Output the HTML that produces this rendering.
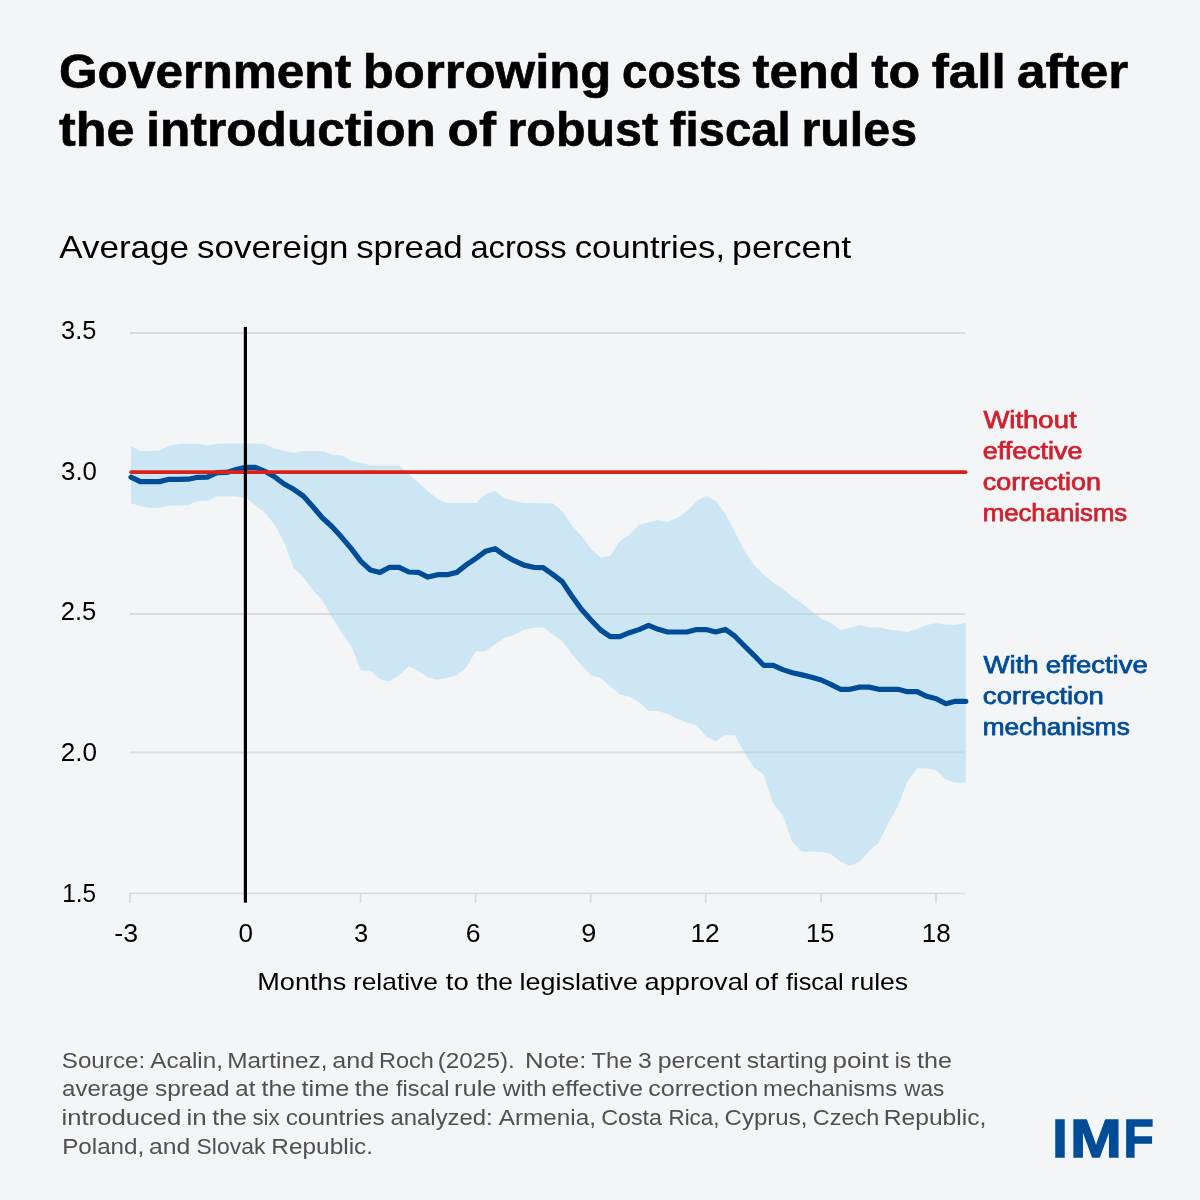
<!DOCTYPE html>
<html lang="en"><head><meta charset="utf-8"><title>Government borrowing costs tend to fall after the introduction of robust fiscal rules</title>
<style>
html,body{margin:0;padding:0;background:#f4f5f7}
body{width:1200px;height:1200px;background:#f4f5f7;position:relative;overflow:hidden}
.chart{position:absolute;left:0;top:0;display:block}
text{font-family:"Liberation Sans",sans-serif;fill:#000;white-space:pre}
.grid rect{fill:#dbdbdb}
.band{fill:#9cd7ee;fill-opacity:0.45}
.zero{fill:#000}
.without{stroke:#da2318;stroke-width:3.7;stroke-linecap:round;fill:none}
.with{stroke:#004c97;stroke-width:5.2;stroke-linecap:round;stroke-linejoin:round;fill:none}
.title{font-weight:700;font-size:47.5px;stroke:#000;stroke-width:0.6px}
.sub{font-size:32px}
.ax{font-size:24px}
.tick{font-size:25.5px}
.lab{font-weight:400;font-size:24.2px;stroke-width:0.75px;paint-order:stroke}
.red{fill:#d0202e;stroke:#d0202e}
.blu{fill:#004c97;stroke:#004c97}
.foot{font-size:21.8px;fill:#505050}
.imf{font-weight:700;font-size:54.3px;fill:#004c97;stroke:#004c97;stroke-width:1.4px}
</style></head>
<body>
<svg class="chart" width="1200" height="1200" viewBox="0 0 1200 1200" role="img" aria-label="Average sovereign spread across countries, percent">
<g class="grid">
<rect x="130" y="332" width="835" height="2"/>
<rect x="130" y="472" width="835" height="2"/>
<rect x="130" y="613" width="835" height="2"/>
<rect x="130" y="751.4" width="835" height="2"/>
<rect x="129.1" y="892.6" width="835.9" height="1.6"/>
<rect x="129.1" y="893.4" width="1.8" height="9.6"/>
<rect x="244.5" y="893.4" width="1.8" height="9.6"/>
<rect x="359.7" y="893.4" width="1.8" height="9.6"/>
<rect x="474.7" y="893.4" width="1.8" height="9.6"/>
<rect x="589.8" y="893.4" width="1.8" height="9.6"/>
<rect x="704.8" y="893.4" width="1.8" height="9.6"/>
<rect x="820.3" y="893.4" width="1.8" height="9.6"/>
<rect x="935.1" y="893.4" width="1.8" height="9.6"/>
</g>
<polygon class="band" points="131.0,446.0 140.3,450.9 149.9,450.9 159.5,450.4 169.1,446.0 178.6,444.0 188.2,443.7 197.8,443.7 207.4,445.6 217.0,443.7 226.6,443.6 236.2,443.6 245.8,443.6 255.4,443.6 265.0,444.0 274.5,448.5 284.1,450.7 293.7,452.9 303.3,451.1 312.9,450.9 322.5,450.9 332.1,455.1 341.7,455.6 351.3,460.4 360.9,463.1 370.4,465.3 380.0,465.3 389.6,465.3 399.2,465.3 408.8,474.0 418.4,482.7 428.0,491.3 437.6,499.1 447.2,503.1 456.8,503.1 466.3,503.1 475.9,503.1 485.5,494.0 495.1,491.3 504.7,498.0 514.3,501.1 523.9,503.1 533.5,503.1 543.1,503.2 552.7,503.2 562.2,511.0 571.8,525.3 581.4,536.0 591.0,548.7 600.6,557.7 610.2,556.0 619.8,541.3 629.4,534.7 639.0,524.7 648.6,522.4 658.2,520.0 667.7,522.0 677.3,517.7 686.9,511.3 696.5,500.9 706.1,496.0 715.7,500.7 725.3,514.0 734.9,532.0 744.5,550.7 754.0,564.7 763.6,574.7 773.2,582.7 782.8,588.7 792.4,596.7 802.0,603.3 811.6,611.3 821.2,618.7 830.8,622.7 840.4,630.2 850.0,627.7 859.5,625.3 869.1,627.3 878.7,627.3 888.3,629.6 897.9,630.4 907.5,632.0 917.1,629.1 926.7,625.1 936.3,622.9 945.8,624.7 955.4,624.7 965.8,622.7 965.8,782.7 955.4,782.4 945.8,779.7 936.3,770.4 926.7,768.3 917.1,768.3 907.5,781.3 897.9,806.0 888.3,823.3 878.7,842.7 869.1,851.3 859.5,861.5 850.0,866.0 840.4,861.5 830.8,854.0 821.2,851.8 811.6,851.7 802.0,851.7 792.4,842.0 782.8,815.3 773.2,803.3 763.6,774.7 754.0,767.3 744.5,753.0 734.9,735.0 725.3,735.0 715.7,741.5 706.1,736.5 696.5,725.3 686.9,722.4 677.3,718.7 667.7,714.0 658.2,711.0 648.6,710.9 639.0,702.0 629.4,696.7 619.8,694.3 610.2,686.3 600.6,677.7 591.0,675.3 581.4,665.3 571.8,654.0 562.2,641.0 552.7,634.2 543.1,627.5 533.5,627.7 523.9,630.0 514.3,634.7 504.7,637.7 495.1,644.3 485.5,651.3 475.9,651.3 466.3,667.3 456.8,675.3 447.2,677.7 437.6,679.7 428.0,677.3 418.4,671.0 408.8,666.0 399.2,675.3 389.6,681.6 380.0,679.3 370.4,670.7 360.9,670.4 351.3,646.0 341.7,632.7 332.1,617.3 322.5,600.7 312.9,590.0 303.3,577.3 293.7,568.0 284.1,542.0 274.5,524.6 265.0,513.0 255.4,505.3 245.8,498.0 236.2,496.4 226.6,496.3 217.0,496.3 207.4,500.7 197.8,501.0 188.2,505.3 178.6,505.5 169.1,505.7 159.5,507.7 149.9,508.0 140.3,506.0 131.0,503.3"/>
<polyline class="with" points="131.0,477.1 140.3,481.7 149.9,481.7 159.5,481.6 169.1,479.3 178.6,479.3 188.2,479.2 197.8,477.3 207.4,477.1 217.0,472.7 226.6,472.4 236.2,469.6 245.8,467.3 255.4,467.3 265.0,471.3 274.5,476.7 284.1,484.0 293.7,489.3 303.3,496.0 312.9,506.7 322.5,518.0 332.1,526.7 341.7,537.3 351.3,548.7 360.9,561.3 370.4,570.0 380.0,572.4 389.6,567.3 399.2,567.3 408.8,572.0 418.4,572.3 428.0,577.1 437.6,574.7 447.2,574.7 456.8,572.4 466.3,564.9 475.9,558.3 485.5,551.3 495.1,548.7 504.7,555.3 514.3,560.7 523.9,565.1 533.5,567.3 543.1,567.6 552.7,574.4 562.2,581.6 571.8,596.0 581.4,609.3 591.0,620.0 600.6,630.0 610.2,636.7 619.8,636.7 629.4,632.7 639.0,629.6 648.6,625.3 658.2,629.3 667.7,632.0 677.3,632.0 686.9,632.0 696.5,629.6 706.1,629.6 715.7,632.0 725.3,629.4 734.9,636.2 744.5,646.0 754.0,655.3 763.6,665.3 773.2,665.3 782.8,669.6 792.4,672.7 802.0,674.9 811.6,677.3 821.2,680.0 830.8,684.4 840.4,689.3 850.0,689.3 859.5,687.1 869.1,687.1 878.7,689.3 888.3,689.3 897.9,689.3 907.5,691.7 917.1,691.7 926.7,696.3 936.3,698.7 945.8,703.7 955.4,701.3 965.8,701.3"/>
<line class="without" x1="131.2" y1="472.2" x2="965.6" y2="472.2"/>
<rect class="zero" x="243.8" y="327" width="3.2" height="575.6"/>
<g class="titles">
<text class="title" y="88.4"><tspan x="59.05" textLength="292.14" lengthAdjust="spacingAndGlyphs">Government</tspan> <tspan x="362.8" textLength="248.61" lengthAdjust="spacingAndGlyphs">borrowing</tspan> <tspan x="622.1" textLength="119.18" lengthAdjust="spacingAndGlyphs">costs</tspan> <tspan x="752.53" textLength="107.53" lengthAdjust="spacingAndGlyphs">tend</tspan> <tspan x="871.25" textLength="49.02" lengthAdjust="spacingAndGlyphs">to</tspan> <tspan x="931.7" textLength="74.19" lengthAdjust="spacingAndGlyphs">fall</tspan> <tspan x="1017" textLength="111.14" lengthAdjust="spacingAndGlyphs">after</tspan></text>
<text class="title" y="145.9"><tspan x="59.07" textLength="75.44" lengthAdjust="spacingAndGlyphs">the</tspan> <tspan x="146.3" textLength="289.48" lengthAdjust="spacingAndGlyphs">introduction</tspan> <tspan x="447.6" textLength="48.38" lengthAdjust="spacingAndGlyphs">of</tspan> <tspan x="507.5" textLength="150.52" lengthAdjust="spacingAndGlyphs">robust</tspan> <tspan x="669.62" textLength="121.16" lengthAdjust="spacingAndGlyphs">fiscal</tspan> <tspan x="801.47" textLength="115.57" lengthAdjust="spacingAndGlyphs">rules</tspan></text>
<text class="sub" y="258"><tspan x="59.22" textLength="129.69" lengthAdjust="spacingAndGlyphs">Average</tspan> <tspan x="197.08" textLength="151.42" lengthAdjust="spacingAndGlyphs">sovereign</tspan> <tspan x="356.17" textLength="106.52" lengthAdjust="spacingAndGlyphs">spread</tspan> <tspan x="470.42" textLength="96.2" lengthAdjust="spacingAndGlyphs">across</tspan> <tspan x="574.8" textLength="150.21" lengthAdjust="spacingAndGlyphs">countries,</tspan> <tspan x="732.05" textLength="119.14" lengthAdjust="spacingAndGlyphs">percent</tspan></text>
</g>
<g class="yaxis">
<text class="tick" y="338.7"><tspan x="61.03" textLength="35.29" lengthAdjust="spacingAndGlyphs">3.5</tspan></text>
<text class="tick" y="479.7"><tspan x="61" textLength="35.98" lengthAdjust="spacingAndGlyphs">3.0</tspan></text>
<text class="tick" y="620.1"><tspan x="60.78" textLength="35.56" lengthAdjust="spacingAndGlyphs">2.5</tspan></text>
<text class="tick" y="760.8"><tspan x="60.75" textLength="36.25" lengthAdjust="spacingAndGlyphs">2.0</tspan></text>
<text class="tick" y="901.6"><tspan x="62.28" textLength="33.93" lengthAdjust="spacingAndGlyphs">1.5</tspan></text>
</g>
<g class="xaxis">
<text class="tick" y="942"><tspan x="114.38" textLength="23.8" lengthAdjust="spacingAndGlyphs">-3</tspan></text>
<text class="tick" y="942"><tspan x="238.5" textLength="14.48" lengthAdjust="spacingAndGlyphs">0</tspan></text>
<text class="tick" y="942"><tspan x="354" textLength="14.19" lengthAdjust="spacingAndGlyphs">3</tspan></text>
<text class="tick" y="942"><tspan x="465.75" textLength="14.8" lengthAdjust="spacingAndGlyphs">6</tspan></text>
<text class="tick" y="942"><tspan x="581.25" textLength="15.09" lengthAdjust="spacingAndGlyphs">9</tspan></text>
<text class="tick" y="942"><tspan x="690.5" textLength="29.23" lengthAdjust="spacingAndGlyphs">12</tspan></text>
<text class="tick" y="942"><tspan x="806" textLength="28.38" lengthAdjust="spacingAndGlyphs">15</tspan></text>
<text class="tick" y="942"><tspan x="921.75" textLength="28.94" lengthAdjust="spacingAndGlyphs">18</tspan></text>
<text class="ax" y="989.5"><tspan x="257.27" textLength="88.94" lengthAdjust="spacingAndGlyphs">Months</tspan> <tspan x="352.92" textLength="85.03" lengthAdjust="spacingAndGlyphs">relative</tspan> <tspan x="445.78" textLength="22.85" lengthAdjust="spacingAndGlyphs">to</tspan> <tspan x="476.45" textLength="36.5" lengthAdjust="spacingAndGlyphs">the</tspan> <tspan x="519.62" textLength="118.26" lengthAdjust="spacingAndGlyphs">legislative</tspan> <tspan x="644.52" textLength="104.3" lengthAdjust="spacingAndGlyphs">approval</tspan> <tspan x="754.72" textLength="23.33" lengthAdjust="spacingAndGlyphs">of</tspan> <tspan x="786.02" textLength="57.68" lengthAdjust="spacingAndGlyphs">fiscal</tspan> <tspan x="850.55" textLength="57.63" lengthAdjust="spacingAndGlyphs">rules</tspan></text>
</g>
<g class="legend-without">
<text class="lab red" y="428.3"><tspan x="983.47" textLength="93.05" lengthAdjust="spacingAndGlyphs">Without</tspan></text>
<text class="lab red" y="459.3"><tspan x="982.72" textLength="99.7" lengthAdjust="spacingAndGlyphs">effective</tspan></text>
<text class="lab red" y="490.4"><tspan x="982.72" textLength="118.33" lengthAdjust="spacingAndGlyphs">correction</tspan></text>
<text class="lab red" y="521.3"><tspan x="982.72" textLength="144.53" lengthAdjust="spacingAndGlyphs">mechanisms</tspan></text>
</g>
<g class="legend-with">
<text class="lab blu" y="672.6"><tspan x="983.5" textLength="55.21" lengthAdjust="spacingAndGlyphs">With</tspan> <tspan x="1045.85" textLength="101.93" lengthAdjust="spacingAndGlyphs">effective</tspan></text>
<text class="lab blu" y="703.8"><tspan x="982.88" textLength="120.98" lengthAdjust="spacingAndGlyphs">correction</tspan></text>
<text class="lab blu" y="734.9"><tspan x="982.72" textLength="147.06" lengthAdjust="spacingAndGlyphs">mechanisms</tspan></text>
</g>
<g class="footnote">
<text class="foot" y="1067.5"><tspan x="61.75" textLength="83.44" lengthAdjust="spacingAndGlyphs">Source:</tspan> <tspan x="150.3" textLength="72.65" lengthAdjust="spacingAndGlyphs">Acalin,</tspan> <tspan x="227.25" textLength="100.27" lengthAdjust="spacingAndGlyphs">Martinez,</tspan> <tspan x="332.28" textLength="41.88" lengthAdjust="spacingAndGlyphs">and</tspan> <tspan x="379" textLength="54.89" lengthAdjust="spacingAndGlyphs">Roch</tspan> <tspan x="437.72" textLength="77.05" lengthAdjust="spacingAndGlyphs">(2025).</tspan>  <tspan x="525.1" textLength="61.4" lengthAdjust="spacingAndGlyphs">Note:</tspan> <tspan x="591.52" textLength="40.8" lengthAdjust="spacingAndGlyphs">The</tspan> <tspan x="638.12" textLength="13.81" lengthAdjust="spacingAndGlyphs">3</tspan> <tspan x="657.75" textLength="83.15" lengthAdjust="spacingAndGlyphs">percent</tspan> <tspan x="746.78" textLength="80.62" lengthAdjust="spacingAndGlyphs">starting</tspan> <tspan x="832.45" textLength="56.36" lengthAdjust="spacingAndGlyphs">point</tspan> <tspan x="894.65" textLength="16.33" lengthAdjust="spacingAndGlyphs">is</tspan> <tspan x="917" textLength="34.96" lengthAdjust="spacingAndGlyphs">the</tspan></text>
<text class="foot" y="1096.25"><tspan x="62" textLength="86.99" lengthAdjust="spacingAndGlyphs">average</tspan> <tspan x="155" textLength="74.72" lengthAdjust="spacingAndGlyphs">spread</tspan> <tspan x="235.3" textLength="20.06" lengthAdjust="spacingAndGlyphs">at</tspan> <tspan x="261.48" textLength="34.6" lengthAdjust="spacingAndGlyphs">the</tspan> <tspan x="301.5" textLength="47.83" lengthAdjust="spacingAndGlyphs">time</tspan> <tspan x="354.78" textLength="34.6" lengthAdjust="spacingAndGlyphs">the</tspan> <tspan x="396.08" textLength="53.5" lengthAdjust="spacingAndGlyphs">fiscal</tspan> <tspan x="454.05" textLength="42.51" lengthAdjust="spacingAndGlyphs">rule</tspan> <tspan x="502.78" textLength="43.87" lengthAdjust="spacingAndGlyphs">with</tspan> <tspan x="551.5" textLength="91.55" lengthAdjust="spacingAndGlyphs">effective</tspan> <tspan x="648.2" textLength="110.07" lengthAdjust="spacingAndGlyphs">correction</tspan> <tspan x="763.12" textLength="134.02" lengthAdjust="spacingAndGlyphs">mechanisms</tspan> <tspan x="904.25" textLength="39.95" lengthAdjust="spacingAndGlyphs">was</tspan></text>
<text class="foot" y="1125"><tspan x="61.5" textLength="119.84" lengthAdjust="spacingAndGlyphs">introduced</tspan> <tspan x="186.52" textLength="20.18" lengthAdjust="spacingAndGlyphs">in</tspan> <tspan x="212.28" textLength="34.6" lengthAdjust="spacingAndGlyphs">the</tspan> <tspan x="252.5" textLength="27.11" lengthAdjust="spacingAndGlyphs">six</tspan> <tspan x="285.7" textLength="98.9" lengthAdjust="spacingAndGlyphs">countries</tspan> <tspan x="390.5" textLength="102.26" lengthAdjust="spacingAndGlyphs">analyzed:</tspan> <tspan x="498.88" textLength="97.01" lengthAdjust="spacingAndGlyphs">Armenia,</tspan> <tspan x="601.25" textLength="60.77" lengthAdjust="spacingAndGlyphs">Costa</tspan> <tspan x="668.52" textLength="50.91" lengthAdjust="spacingAndGlyphs">Rica,</tspan> <tspan x="724.55" textLength="82.91" lengthAdjust="spacingAndGlyphs">Cyprus,</tspan> <tspan x="812.88" textLength="66.42" lengthAdjust="spacingAndGlyphs">Czech</tspan> <tspan x="883.75" textLength="102.64" lengthAdjust="spacingAndGlyphs">Republic,</tspan></text>
<text class="foot" y="1153.75"><tspan x="62.15" textLength="82.15" lengthAdjust="spacingAndGlyphs">Poland,</tspan> <tspan x="149.02" textLength="41.3" lengthAdjust="spacingAndGlyphs">and</tspan> <tspan x="196.52" textLength="68.85" lengthAdjust="spacingAndGlyphs">Slovak</tspan> <tspan x="271.3" textLength="101.81" lengthAdjust="spacingAndGlyphs">Republic.</tspan></text>
</g>
<text class="imf" y="1157.2"><tspan x="1052.25" textLength="15.5" lengthAdjust="spacingAndGlyphs">I</tspan><tspan x="1069.92" textLength="51.92" lengthAdjust="spacingAndGlyphs">M</tspan><tspan x="1123.5" textLength="30.31" lengthAdjust="spacingAndGlyphs">F</tspan></text>
</svg>
</body></html>
